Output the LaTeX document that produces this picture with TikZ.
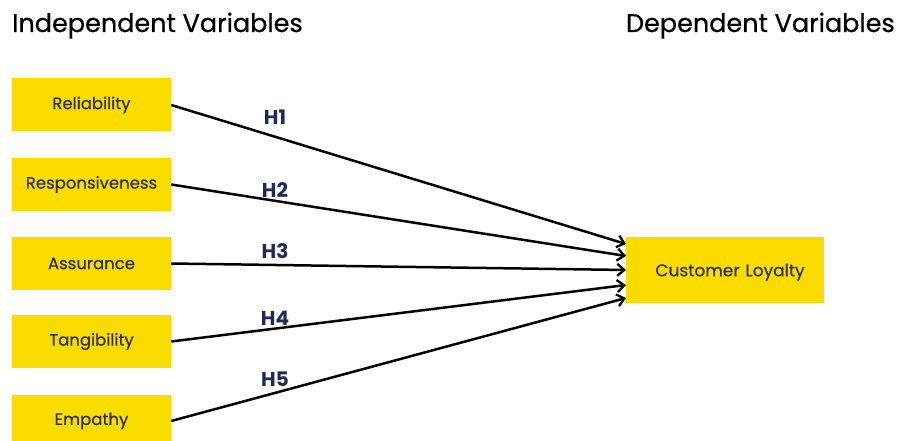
\documentclass[tikz,border=0pt]{standalone}
\usepackage{fontspec}
\setmainfont{Poppins}
\newfontfamily\medfont{Poppins}[FakeBold=0.6]
\newfontfamily\boxfont{Poppins}[FakeBold=0.3]
\usetikzlibrary{arrows.meta}
\definecolor{boxyellow}{HTML}{FADC00}
\definecolor{boxtext}{HTML}{2E2E45}
\definecolor{hyp}{HTML}{1F2A5C}
\tikzset{
  varbox/.style={fill=boxyellow, draw=none, minimum width=159pt, minimum height=53pt, inner sep=0pt, font=\boxfont\fontsize{16.5}{19}\selectfont, text=boxtext},
  depbox/.style={fill=boxyellow, draw=none, minimum width=198pt, minimum height=66pt, inner sep=0pt, font=\boxfont\fontsize{17}{20}\selectfont, text=boxtext, text depth=0pt},
  heading/.style={font=\medfont\fontsize{25.5}{30}\selectfont, text=black, inner sep=0pt, anchor=base west},
  hlabel/.style={font=\bfseries\fontsize{20}{24}\selectfont, text=hyp, inner sep=0pt},
  link/.style={line width=2.5pt, -{Straight Barb[length=7pt,width=12pt,line width=2.3pt]}}
}
\begin{document}
\begin{tikzpicture}[x=1pt,y=-1pt]
\useasboundingbox (0,0) rectangle (898,441);
\node[heading] (ti) at (12,32) {Independent Variables};
\node[heading, anchor=base east] (td) at (895,32) {Dependent Variables};
\node[varbox] (rel) at (91.5,105) {Reliability};
\node[varbox] (res) at (91.5,184.5) {Responsiveness};
\node[varbox] (ass) at (91.5,263.5) {Assurance};
\node[varbox] (tan) at (91.5,341.5) {Tangibility};
\node[varbox] (emp) at (91.5,421) {Empathy};
\node[depbox, text width=198pt, align=center] (cl) at (725,270) {\hspace*{10pt}Customer Loyalty};
\coordinate (t1) at (626,244);
\coordinate (t2) at (626,256);
\coordinate (t3) at (626,270);
\coordinate (t4) at (626,285);
\coordinate (t5) at (626,298);
\draw[link] (rel.east) -- (t1);
\draw[link] (res.east) -- (t2);
\draw[link] (ass.east) -- (t3);
\draw[link] (tan.east) -- (t4);
\draw[link] (emp.east) -- (t5);
\node[hlabel] (h1) at (275,117) {H1};
\node[hlabel] (h2) at (275,190) {H2};
\node[hlabel] (h3) at (275,251) {H3};
\node[hlabel] (h4) at (275,318) {H4};
\node[hlabel] (h5) at (275,379) {H5};
\end{tikzpicture}
\end{document}
